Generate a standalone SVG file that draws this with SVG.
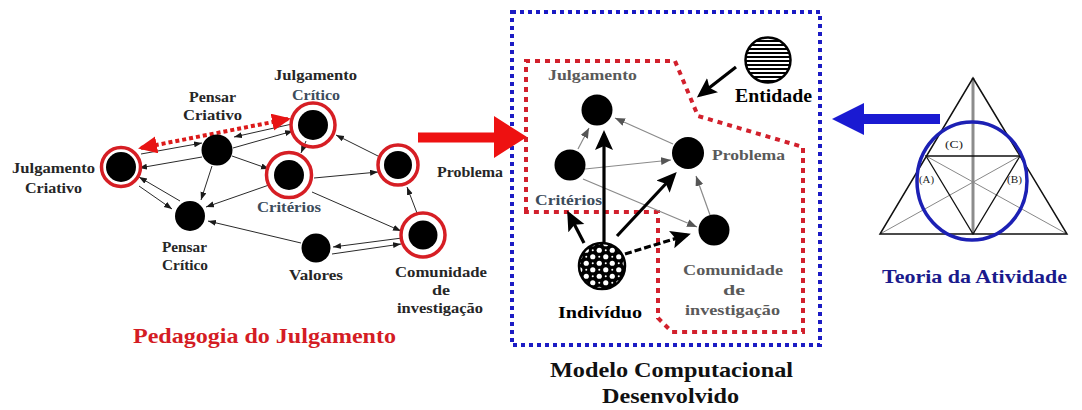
<svg xmlns="http://www.w3.org/2000/svg" width="1082" height="410" viewBox="0 0 1082 410">
<style>
text{font-family:"Liberation Serif","Times New Roman",serif;font-weight:bold}
.lbl{font-size:14.5px;fill:#262626}
.ilbl{font-size:15px;fill:#5a5a5a}
.slate{fill:#3c4c5c}
.big{font-size:21px}
.dot{fill:#000}
.ring{fill:none;stroke:#d61e24;stroke-width:3.5}
.e{stroke:#2a2a2a;stroke-width:1;fill:none;marker-end:url(#sa)}
.ge{stroke:#8a8a8a;stroke-width:1.2;fill:none;marker-end:url(#ga)}
.be{stroke:#000;stroke-width:3.2;fill:none;marker-end:url(#ba)}
.tl{font-size:10px;font-weight:normal;fill:#222}
</style>
<defs>
<marker id="sa" markerUnits="userSpaceOnUse" markerWidth="9" markerHeight="7" refX="8" refY="3" orient="auto"><path d="M0,0 L8,3 L0,6 z" fill="#1a1a1a"/></marker>
<marker id="ga" markerUnits="userSpaceOnUse" markerWidth="11" markerHeight="9" refX="10" refY="4" orient="auto"><path d="M0,0 L10,4 L0,8 z" fill="#555"/></marker>
<marker id="ba" markerUnits="userSpaceOnUse" markerWidth="22" markerHeight="20" refX="16" refY="9" orient="auto"><path d="M0,0 L20,9 L0,18 L4,9 z" fill="#000"/></marker>
<marker id="ra" markerUnits="userSpaceOnUse" markerWidth="20" markerHeight="18" refX="16" refY="8.5" orient="auto-start-reverse"><path d="M0,0 L19,8.5 L0,17 z" fill="#e81414"/></marker>
<pattern id="stripes" patternUnits="userSpaceOnUse" width="4" height="4"><rect width="4" height="4" fill="#fff"/><rect width="4" height="2" fill="#000"/></pattern>
<pattern id="checks" patternUnits="userSpaceOnUse" width="13" height="13" x="596" y="260"><rect width="13" height="13" fill="#000"/><circle cx="3.25" cy="3.25" r="2.6" fill="#fff"/><circle cx="9.75" cy="9.75" r="2.6" fill="#fff"/><circle cx="9.75" cy="3.25" r="1" fill="#fff"/><circle cx="3.25" cy="9.75" r="1" fill="#fff"/></pattern>
</defs>
<rect width="1082" height="410" fill="#fff"/>

<g id="regions">
<rect x="512" y="12" width="308" height="333" fill="none" stroke="#1c1cc4" stroke-width="4" stroke-dasharray="4 4"/>
<path d="M526,212 L526,61 L675,61 L698,116 L803,147 L803,332 L672,332 L658,318 L658,212 Z" fill="none" stroke="#d2202c" stroke-width="4" stroke-dasharray="5 5"/>
</g>

<g id="connectors">
<line class="e" x1="141" y1="154" x2="202" y2="143"/>
<line class="e" x1="202" y1="157" x2="139" y2="168"/>
<line class="e" x1="139" y1="186" x2="172" y2="209"/>
<line class="e" x1="180" y1="201" x2="139" y2="177"/>
<line class="e" x1="212" y1="166" x2="201" y2="200"/>
<line class="e" x1="269" y1="185" x2="206" y2="207"/>
<line class="e" x1="301" y1="243" x2="208" y2="221"/>
<line class="e" x1="232" y1="156" x2="269" y2="169"/>
<line class="e" x1="292" y1="124" x2="234" y2="137"/>
<line class="e" x1="233" y1="148" x2="293" y2="131"/>
<line class="e" x1="306" y1="141" x2="301" y2="153"/>
<line class="e" x1="314" y1="178" x2="378" y2="172"/>
<line class="e" x1="380" y1="157" x2="336" y2="135"/>
<line class="e" x1="417" y1="213" x2="407" y2="187"/>
<line class="e" x1="312" y1="192" x2="401" y2="231"/>
<line class="e" x1="402" y1="238" x2="333" y2="247"/>
<line class="e" x1="332" y1="254" x2="401" y2="244"/>
<line x1="141" y1="148" x2="288" y2="119" stroke="#dc1a1a" stroke-width="4" stroke-dasharray="4 3" marker-start="url(#ra)" marker-end="url(#ra)"/>
<path d="M418,132.5 L494,132.5 L494,116 L527,137 L494,158 L494,142.5 L418,142.5 Z" fill="#ee1111"/>
<path d="M940,114 L864,114 L864,103 L832,119 L864,135 L864,124 L940,124 Z" fill="#1a1ad2"/>
<line class="ge" x1="578" y1="149" x2="589" y2="128"/>
<line class="ge" x1="673" y1="144" x2="615" y2="118"/>
<line class="ge" x1="585" y1="169" x2="671" y2="160"/>
<line class="ge" x1="583" y1="179" x2="697" y2="227"/>
<line class="ge" x1="710" y1="215" x2="696" y2="176"/>
<line class="be" x1="604" y1="244" x2="604" y2="134"/>
<line class="be" x1="617" y1="236" x2="674" y2="175"/>
<line class="be" x1="584" y1="243" x2="569" y2="214"/>
<line class="be" x1="625" y1="254" x2="687" y2="235" stroke-dasharray="7 3"/>
<line class="be" x1="736" y1="67" x2="700" y2="95"/>
</g>

<g id="julgamento-criativo"><circle class="ring" cx="121" cy="167" r="19.5"/><circle class="dot" cx="121" cy="167" r="15"/>
<text class="lbl" x="12" y="173" textLength="83" lengthAdjust="spacingAndGlyphs">Julgamento</text><text class="lbl" x="25" y="193" textLength="57" lengthAdjust="spacingAndGlyphs">Criativo</text></g>
<g id="pensar-criativo"><circle class="dot" cx="217" cy="150" r="15.5"/>
<text class="lbl" x="189" y="102" textLength="47" lengthAdjust="spacingAndGlyphs">Pensar</text><text class="lbl" x="183" y="120" textLength="59" lengthAdjust="spacingAndGlyphs">Criativo</text></g>
<g id="pensar-critico"><circle class="dot" cx="190" cy="216" r="15"/>
<text class="lbl" x="162" y="252" textLength="45" lengthAdjust="spacingAndGlyphs">Pensar</text><text class="lbl" x="162" y="270" textLength="46" lengthAdjust="spacingAndGlyphs">Crítico</text></g>
<g id="julgamento-critico"><circle class="ring" cx="313" cy="125" r="22"/><circle class="dot" cx="313" cy="125" r="15"/>
<text class="lbl" x="274" y="80" textLength="83" lengthAdjust="spacingAndGlyphs">Julgamento</text><text class="lbl slate" x="292" y="100" textLength="48" lengthAdjust="spacingAndGlyphs">Crítico</text></g>
<g id="criterios"><circle class="ring" cx="289" cy="175" r="22.5"/><circle class="dot" cx="289" cy="175" r="15"/>
<text class="lbl slate" x="257" y="212" textLength="64" lengthAdjust="spacingAndGlyphs">Critérios</text></g>
<g id="problema"><circle class="ring" cx="398" cy="165" r="20"/><circle class="dot" cx="398" cy="165" r="14"/>
<text class="lbl" x="437" y="177" textLength="66" lengthAdjust="spacingAndGlyphs">Problema</text></g>
<g id="comunidade"><circle class="ring" cx="423" cy="235" r="22"/><circle class="dot" cx="423" cy="235" r="14.5"/>
<text class="lbl" x="395" y="277" textLength="92" lengthAdjust="spacingAndGlyphs">Comunidade</text><text class="lbl" x="432" y="295" textLength="18" lengthAdjust="spacingAndGlyphs">de</text><text class="lbl" x="397" y="313" textLength="86" lengthAdjust="spacingAndGlyphs">investigação</text></g>
<g id="valores"><circle class="dot" cx="316" cy="248" r="14.5"/>
<text class="lbl" x="289" y="280" textLength="54" lengthAdjust="spacingAndGlyphs">Valores</text></g>
<g id="pedagogia-label"><text class="big" x="133" y="343" textLength="263" lengthAdjust="spacingAndGlyphs" fill="#d41c24">Pedagogia do Julgamento</text></g>

<g id="m-julgamento"><circle class="dot" cx="597" cy="110" r="15.5"/>
<text class="ilbl" x="548" y="80" textLength="89" lengthAdjust="spacingAndGlyphs">Julgamento</text></g>
<g id="m-criterios"><circle class="dot" cx="570" cy="165" r="15.5"/>
<text class="ilbl slate" x="535" y="205" textLength="67" lengthAdjust="spacingAndGlyphs">Critérios</text></g>
<g id="m-problema"><circle class="dot" cx="688" cy="153" r="16"/>
<text class="ilbl" x="712" y="160" textLength="73" lengthAdjust="spacingAndGlyphs">Problema</text></g>
<g id="m-comunidade"><circle class="dot" cx="714" cy="230" r="15.5"/>
<text class="ilbl" x="683" y="275" textLength="100" lengthAdjust="spacingAndGlyphs">Comunidade</text><text class="ilbl" x="723" y="295" textLength="22" lengthAdjust="spacingAndGlyphs">de</text><text class="ilbl" x="685" y="315" textLength="95" lengthAdjust="spacingAndGlyphs">investigação</text></g>
<g id="m-entidade"><circle cx="768" cy="60" r="22.5" fill="url(#stripes)" stroke="#000" stroke-width="2.5"/>
<text x="735" y="102" font-size="18" textLength="77" lengthAdjust="spacingAndGlyphs" fill="#000">Entidade</text></g>
<g id="m-individuo"><circle cx="602" cy="266" r="23" fill="url(#checks)" stroke="#000" stroke-width="2.5"/>
<text x="558" y="318" font-size="17" textLength="84" lengthAdjust="spacingAndGlyphs" fill="#000">Indivíduo</text></g>
<g id="modelo-label"><text class="big" x="550" y="377" textLength="243" lengthAdjust="spacingAndGlyphs" fill="#111">Modelo Computacional</text>
<text class="big" x="602" y="403" textLength="137" lengthAdjust="spacingAndGlyphs" fill="#111">Desenvolvido</text></g>

<g id="teoria-atividade">
<line x1="973" y1="78" x2="973" y2="234" stroke="#8c8c8c" stroke-width="3"/>
<line x1="880" y1="234" x2="1020" y2="156" stroke="#888" stroke-width="1"/>
<line x1="1067" y1="234" x2="926" y2="156" stroke="#888" stroke-width="1"/>
<path d="M926,156 L1020,156 L973,234 Z" fill="none" stroke="#111" stroke-width="1.3"/>
<path d="M973,78 L1067,234 L880,234 Z" fill="none" stroke="#111" stroke-width="1.5"/>
<ellipse cx="972" cy="181" rx="55" ry="59" fill="none" stroke="#1c20b4" stroke-width="3.5"/>
<text class="tl" x="945" y="148" textLength="18" lengthAdjust="spacingAndGlyphs">(C)</text>
<text class="tl" x="919" y="183" textLength="15" lengthAdjust="spacingAndGlyphs">(A)</text>
<text class="tl" x="1007" y="183" textLength="15" lengthAdjust="spacingAndGlyphs">(B)</text>
<text x="882" y="283" font-size="19" textLength="185" lengthAdjust="spacingAndGlyphs" fill="#1a1a8c">Teoria da Atividade</text>
</g>
</svg>
